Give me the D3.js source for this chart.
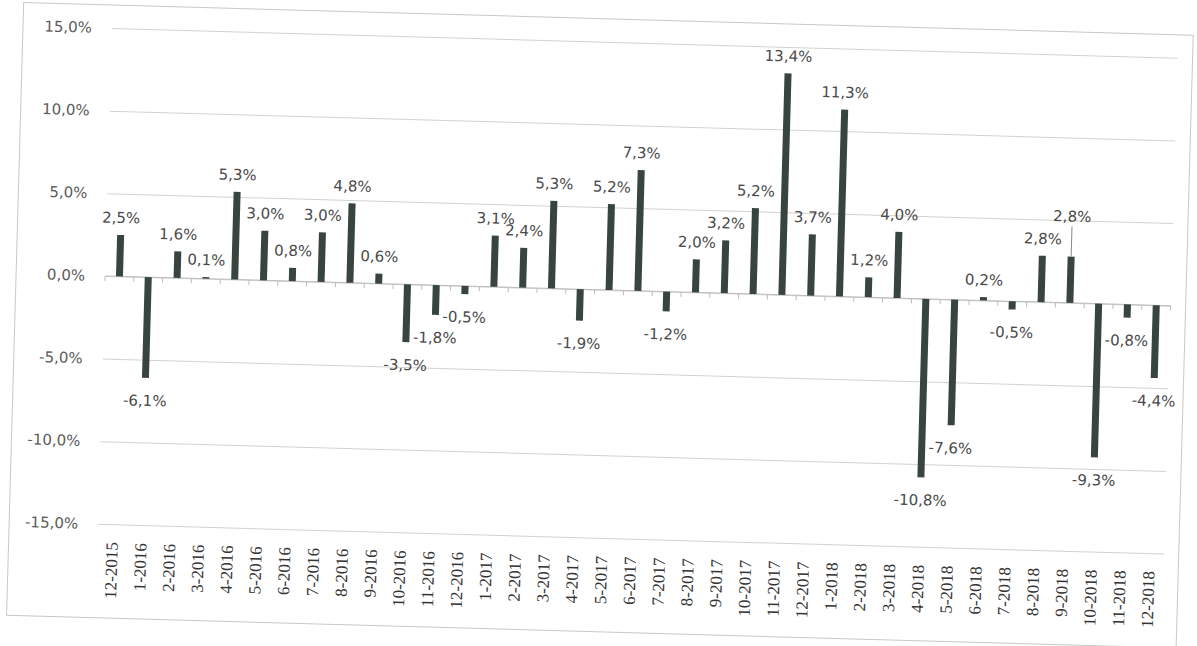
<!DOCTYPE html>
<html>
<head>
<meta charset="utf-8">
<script src="https://cdn.jsdelivr.net/npm/d3@7"></script>
<style>
  body { margin: 0; background: #fff; }
</style>
</head>
<body>
<div id="chart-container"></div>
<script>
// monthly returns
const months = [
    "12-2015", "1-2016", "2-2016", "3-2016", "4-2016", "5-2016", "6-2016", "7-2016",
    "8-2016", "9-2016", "10-2016", "11-2016", "12-2016", "1-2017", "2-2017", "3-2017",
    "4-2017", "5-2017", "6-2017", "7-2017", "8-2017", "9-2017", "10-2017", "11-2017",
    "12-2017", "1-2018", "2-2018", "3-2018", "4-2018", "5-2018", "6-2018", "7-2018",
    "8-2018", "9-2018", "10-2018", "11-2018", "12-2018"
];
const returns = [
    2.5, -6.1, 1.6, 0.1, 5.3, 3.0, 0.8, 3.0,
    4.8, 0.6, -3.5, -1.8, -0.5, 3.1, 2.4, 5.3,
    -1.9, 5.2, 7.3, -1.2, 2.0, 3.2, 5.2, 13.4,
    3.7, 11.3, 1.2, 4.0, -10.8, -7.6, 0.2, -0.5,
    2.8, 2.8, -9.3, -0.8, -4.4
];
const yTicks = [-15, -10, -5, 0, 5, 10, 15];

// label that was dragged up in the original, drawn with a leader line
const liftedLabels = { "9-2018": 23 };

// the source is a scan, the whole sheet sits a bit crooked
const tilt = 1.6;

const margin = { top: 28, left: 112 };
const width = 1066;
const height = 496;

const rows = months.map((m, i) => ({ month: m, value: returns[i] }));

const pct = d3.formatLocale({
    decimal: ",", thousands: ".", grouping: [3], currency: ["", ""], minus: "-"
}).format(".1%");

const svg = d3.select("#chart-container")
    .append("svg")
    .attr("width", 1197)
    .attr("height", 646);

const page = svg.append("g")
    .attr("transform", `rotate(${tilt}, ${margin.left}, ${margin.top})`);

// chart border
page.append("rect")
    .attr("x", 23)
    .attr("y", 5)
    .attr("width", 1170)
    .attr("height", 613)
    .attr("fill", "none")
    .attr("stroke", "#c8c8c8");

const g = page.append("g")
    .attr("transform", `translate(${margin.left},${margin.top})`);

const x = d3.scaleBand().domain(months).range([0, width]);
const y = d3.scaleLinear().domain([-15, 15]).range([height, 0]);

// y axis + horizontal gridlines
g.append("g")
    .call(d3.axisLeft(y)
        .tickValues(yTicks)
        .tickSize(-width)
        .tickPadding(20)
        .tickFormat(d => pct(d / 100)))
    .attr("font-size", 15)
    .attr("font-family", "'DejaVu Sans', Verdana, sans-serif")
    .call(a => a.select(".domain").remove())
    .call(a => a.selectAll(".tick line").attr("stroke", "#d2d2d2"))
    .call(a => a.selectAll(".tick text").attr("fill", "#5c5c5c"));

// zero axis line with small ticks between categories
const axis0 = g.append("g");
axis0.append("line")
    .attr("x1", 0)
    .attr("x2", width)
    .attr("y1", y(0))
    .attr("y2", y(0))
    .attr("stroke", "#bdbdbd");
axis0.selectAll("line.tk")
    .data(months.map(m => x(m)).concat(width))
    .join("line")
    .attr("class", "tk")
    .attr("x1", d => d)
    .attr("x2", d => d)
    .attr("y1", y(0))
    .attr("y2", y(0) + 5)
    .attr("stroke", "#bdbdbd");

// bars
const barW = 7;
g.selectAll(".bar")
    .data(rows)
    .join("rect")
    .attr("class", "bar")
    .attr("x", d => x(d.month) + (x.bandwidth() - barW) / 2)
    .attr("y", d => y(Math.max(0, d.value)))
    .attr("width", barW)
    .attr("height", d => Math.abs(y(d.value) - y(0)))
    .attr("fill", "#38443e");

// leader lines for moved labels
g.selectAll(".leader")
    .data(rows.filter(d => liftedLabels[d.month]))
    .join("line")
    .attr("class", "leader")
    .attr("x1", d => x(d.month) + x.bandwidth() / 2)
    .attr("x2", d => x(d.month) + x.bandwidth() / 2)
    .attr("y1", d => y(d.value) - 12 - liftedLabels[d.month] + 5)
    .attr("y2", d => y(d.value))
    .attr("stroke", "#8a8a8a")
    .attr("stroke-width", 1);

// value labels
g.selectAll(".val")
    .data(rows)
    .join("text")
    .attr("class", "val")
    .attr("x", d => x(d.month) + x.bandwidth() / 2)
    .attr("y", d => d.value >= 0
        ? y(d.value) - 12 - (liftedLabels[d.month] || 0)
        : y(d.value) + 28)
    .attr("text-anchor", "middle")
    .style("font-size", "15px")
    .style("font-family", "'DejaVu Sans', Verdana, sans-serif")
    .style("fill", "#4a4a4a")
    .text(d => pct(d.value / 100));

// category labels, rotated
g.append("g")
    .attr("transform", `translate(0,${height})`)
    .call(d3.axisBottom(x).tickSize(0).tickPadding(0))
    .attr("font-size", 17)
    .attr("font-family", "'Liberation Serif', 'Times New Roman', serif")
    .call(a => a.select(".domain").remove())
    .selectAll(".tick text")
    .attr("transform", "rotate(-90)")
    .attr("text-anchor", "end")
    .attr("x", -18)
    .attr("y", 0)
    .attr("dy", "0.33em")
    .attr("fill", "#333");
</script>
</body>
</html>
